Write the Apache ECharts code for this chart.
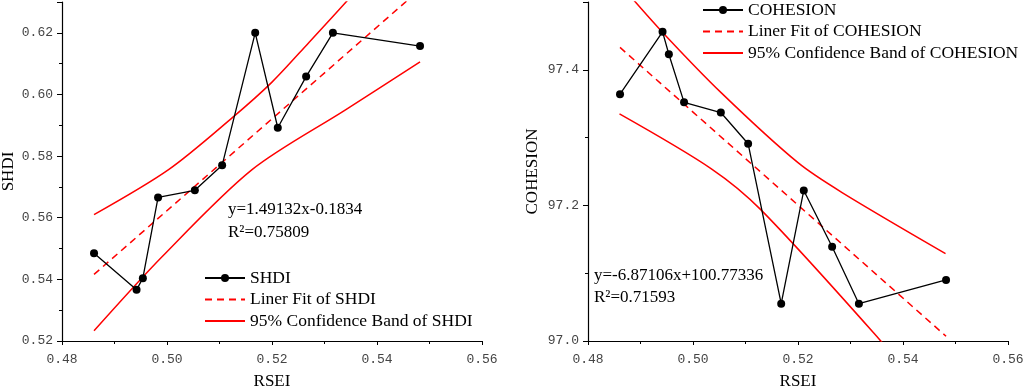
<!DOCTYPE html>
<html>
<head>
<meta charset="utf-8">
<script src="https://cdn.jsdelivr.net/npm/echarts@6/dist/echarts.min.js"></script>
<style>
  html, body { margin: 0; padding: 0; background: #fff; }
  #chart { width: 1024px; height: 390px; }
</style>
</head>
<body>
<div id="chart"></div>
<script>
// RSEI values shared by both panels
var rsei = [0.4861, 0.4942, 0.4954, 0.4983, 0.5053, 0.5105, 0.5168, 0.5211, 0.5265, 0.5316, 0.5482];
var shdi = [0.5485, 0.5366, 0.5404, 0.5666, 0.5689, 0.5770, 0.6200, 0.5892, 0.6058, 0.6200, 0.6157];
var cohesion = [97.364, 97.456, 97.423, 97.352, 97.337, 97.291, 97.055, 97.222, 97.139, 97.055, 97.090];

// fitted lines (end points)
var fitX = [0.4861, 0.5482];
var shdiFitY = [0.5416, 0.6341];
var cohFitY = [97.433, 97.007];

// confidence bands
var shdiUpX = [0.4861, 0.5003, 0.5124, 0.5200, 0.5270, 0.5341, 0.5482];
var shdiUpY = [0.5610, 0.5756, 0.5924, 0.6040, 0.6168, 0.6300, 0.6570];
var shdiLoX = [0.4861, 0.4991, 0.5162, 0.5340, 0.5482];
var shdiLoY = [0.5233, 0.5474, 0.5756, 0.5950, 0.6106];

var cohUpX = [0.4861, 0.4940, 0.5054, 0.5200, 0.5284, 0.5481];
var cohUpY = [97.526, 97.457, 97.366, 97.263, 97.219, 97.129];
var cohLoX = [0.4860, 0.5035, 0.5130, 0.5356, 0.5482];
var cohLoY = [97.335, 97.254, 97.193, 97.0015, 96.886];

var serif = '"Liberation Serif", "Times New Roman", serif';
var mono = '"Liberation Mono", monospace';

function pairs(xs, ys) {
    var out = [];
    for (var i = 0; i < xs.length; i++) out.push([xs[i], ys[i]]);
    return out;
}

function xAxisOf(idx) {
    return {
        gridIndex: idx,
        type: 'value',
        min: 0.48, max: 0.56, interval: 0.02,
        name: 'RSEI',
        nameLocation: 'middle',
        nameGap: 32,
        nameTextStyle: { fontFamily: serif, fontSize: 17, color: '#000' },
        axisLine: { lineStyle: { color: '#000', width: 1.2 } },
        axisTick: { length: 4, lineStyle: { color: '#000' } },
        minorTick: { show: true, splitNumber: 2, length: 3, lineStyle: { color: '#000' } },
        splitLine: { show: false },
        axisLabel: {
            fontFamily: mono, fontSize: 13, color: '#444', margin: 12,
            formatter: function (v) { return v.toFixed(2); }
        }
    };
}

function yAxisOf(idx, name, min, max, step, digits, gap) {
    return {
        gridIndex: idx,
        type: 'value',
        min: min, max: max, interval: step,
        name: name,
        nameLocation: 'middle',
        nameGap: gap,
        nameTextStyle: { fontFamily: serif, fontSize: 17, color: '#000' },
        axisLine: { show: true, lineStyle: { color: '#000', width: 1.2 } },
        axisTick: { show: true, length: 5, lineStyle: { color: '#000' } },
        minorTick: { show: true, splitNumber: 2, length: 3, lineStyle: { color: '#000' } },
        splitLine: { show: false },
        axisLabel: {
            fontFamily: mono, fontSize: 13, color: '#444', margin: 9,
            showMaxLabel: false,
            formatter: function (v) { return v.toFixed(digits); }
        }
    };
}

function dataSeries(name, idx, ys) {
    return {
        name: name, type: 'line', xAxisIndex: idx, yAxisIndex: idx,
        data: pairs(rsei, ys),
        symbol: 'circle', symbolSize: 8,
        itemStyle: { color: '#000' },
        lineStyle: { color: '#000', width: 1.3 },
        z: 5
    };
}

function fitSeries(name, idx, ys) {
    return {
        name: name, type: 'line', xAxisIndex: idx, yAxisIndex: idx,
        data: pairs(fitX, ys),
        symbol: 'none',
        itemStyle: { color: '#ff0000' },
        lineStyle: { color: '#ff0000', width: 1.5, type: [7, 5] }
    };
}

function bandSeries(name, idx, xs, ys) {
    return {
        name: name, type: 'line', xAxisIndex: idx, yAxisIndex: idx,
        data: pairs(xs, ys),
        symbol: 'none', smooth: 0.3,
        itemStyle: { color: '#ff0000' },
        lineStyle: { color: '#ff0000', width: 1.5 }
    };
}

// the red entries are lines only: hide the legend marker dot
function lineOnly(name) {
    return { name: name, itemStyle: { color: 'rgba(0,0,0,0)', borderWidth: 0 } };
}

function legendOf(left, top, names) {
    return {
        orient: 'vertical', left: left, top: top, padding: 0,
        data: [names[0], lineOnly(names[1]), lineOnly(names[2])],
        itemWidth: 40, itemHeight: 10, itemGap: 3.5,
        selectedMode: false,
        textStyle: { fontFamily: serif, fontSize: 17.5, lineHeight: 18, color: '#000' }
    };
}

function note(x, y, text) {
    return {
        type: 'text', x: x, y: y,
        style: { text: text, fontFamily: serif, fontSize: 17, fill: '#000', verticalAlign: 'middle' }
    };
}

var chart = echarts.init(document.getElementById('chart'), null, { renderer: 'canvas' });

chart.setOption({
    animation: false,
    backgroundColor: '#fff',
    grid: [
        { left: 62, width: 420, top: 2, bottom: 49, outerBoundsMode: 'none' },
        { left: 588, width: 420, top: 2, bottom: 49, outerBoundsMode: 'none' }
    ],
    xAxis: [xAxisOf(0), xAxisOf(1)],
    yAxis: [
        yAxisOf(0, 'SHDI', 0.52, 0.63, 0.02, 2, 45),
        yAxisOf(1, 'COHESION', 97.0, 97.5, 0.2, 1, 47)
    ],
    legend: [
        legendOf(204, 269, ['SHDI', 'Liner Fit of SHDI', '95% Confidence Band of SHDI']),
        legendOf(702, 1, ['COHESION', 'Liner Fit of COHESION', '95% Confidence Band of COHESION'])
    ],
    graphic: [
        note(228, 210, 'y=1.49132x-0.1834'),
        note(228, 233, 'R\u00b2=0.75809'),
        note(594, 276, 'y=-6.87106x+100.77336'),
        note(594, 298, 'R\u00b2=0.71593')
    ],
    series: [
        bandSeries('95% Confidence Band of SHDI', 0, shdiUpX, shdiUpY),
        bandSeries('95% Confidence Band of SHDI', 0, shdiLoX, shdiLoY),
        fitSeries('Liner Fit of SHDI', 0, shdiFitY),
        dataSeries('SHDI', 0, shdi),
        bandSeries('95% Confidence Band of COHESION', 1, cohUpX, cohUpY),
        bandSeries('95% Confidence Band of COHESION', 1, cohLoX, cohLoY),
        fitSeries('Liner Fit of COHESION', 1, cohFitY),
        dataSeries('COHESION', 1, cohesion)
    ]
});
</script>
</body>
</html>
